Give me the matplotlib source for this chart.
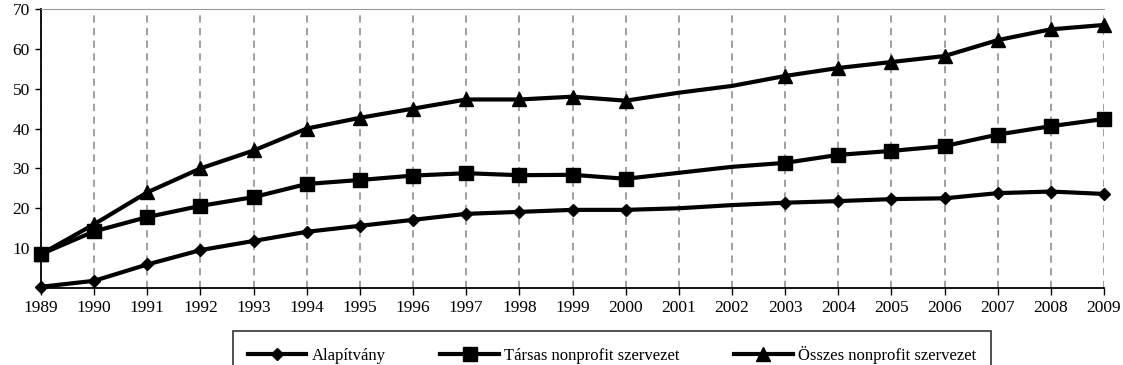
import matplotlib
matplotlib.use("Agg")
import matplotlib.pyplot as plt
import numpy as np

years = list(range(1989, 2010))
alapitvany = [0.3, 1.8, 5.9, 9.5, 11.8, 14.1, 15.6, 17.1, 18.6, 19.1, 19.6, 19.6,
              20.0, 20.8, 21.4, 21.8, 22.3, 22.5, 23.8, 24.2, 23.6]
tarsas = [8.5, 14.2, 17.8, 20.6, 22.8, 26.1, 27.1, 28.2, 28.8, 28.3, 28.4, 27.4,
          28.9, 30.4, 31.4, 33.4, 34.4, 35.6, 38.5, 40.6, 42.4]
osszes = [8.5, 16.0, 24.0, 30.0, 34.5, 40.0, 42.7, 45.0, 47.3, 47.3, 48.0, 47.0,
          49.0, 50.7, 53.2, 55.2, 56.7, 58.2, 62.2, 64.9, 66.0]
no_marker_years = [2001, 2002]
labels = ["Alapítvány", "Társas nonprofit szervezet", "Összes nonprofit szervezet"]

plt.rcParams['font.family'] = ['Liberation Serif', 'DejaVu Serif']

fig = plt.figure(figsize=(11.23, 3.65), dpi=100)
ax = fig.add_axes([0.0365, 0.211, 0.9466, 0.7643])

mark_idx = [i for i, y in enumerate(years) if y not in no_marker_years]
styles = [("D", 6.5), ("s", 9.5), ("^", 9.5)]
for vals, lab, (m, ms) in zip([alapitvany, tarsas, osszes], labels, styles):
    ax.plot(years, vals, color="black", lw=3, marker=m, ms=ms, markevery=mark_idx,
            label=lab, solid_joinstyle="round", clip_on=False)

ax.set_xlim(1989, 2009)
ax.set_ylim(0, 70)
ax.set_xticks(years)
ax.set_xticklabels([str(y) for y in years], fontsize=12.5)
ax.set_yticks(range(10, 71, 10))
ax.set_yticklabels([str(v) for v in range(10, 71, 10)], fontsize=12.5)
ax.tick_params(axis='x', direction='out', length=5, width=1, pad=4)
ax.tick_params(axis='y', direction='out', length=4, width=1, pad=4)
ax.grid(axis='x', color='#999999', linestyle=(0, (4, 3)), lw=1.3)
for s in ['left', 'bottom']:
    ax.spines[s].set_color('black')
    ax.spines[s].set_linewidth(1.3)
ax.spines['top'].set_color('#999999')
ax.spines['right'].set_visible(False)

leg = fig.legend(loc='lower center', bbox_to_anchor=(0.545, -0.06), ncol=3,
                 fontsize=12, frameon=True, fancybox=False, edgecolor='black',
                 handlelength=3.5, columnspacing=3.3, borderpad=0.9, handletextpad=0.3)
leg.get_frame().set_linewidth(1.2)

fig.savefig("out.png", dpi=100)
